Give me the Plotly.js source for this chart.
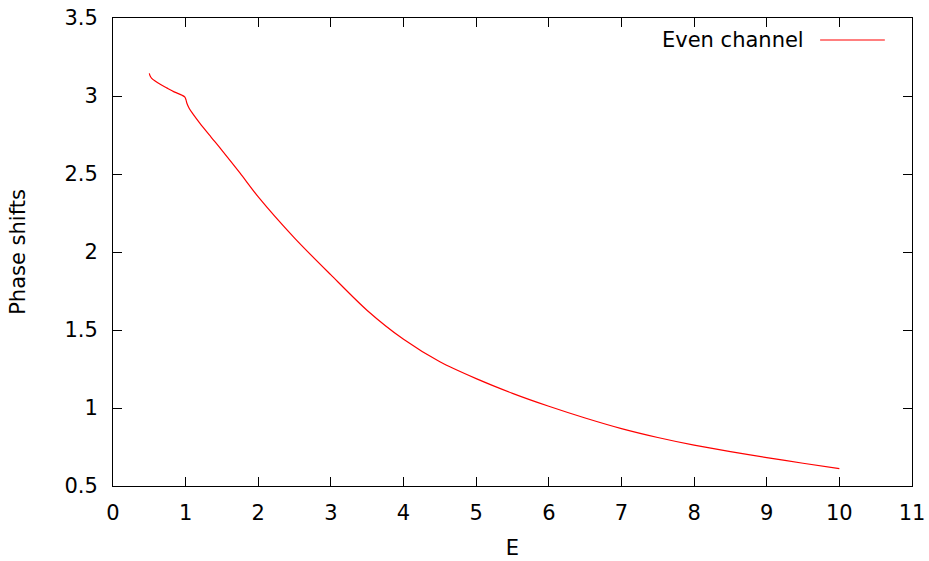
<!DOCTYPE html>
<html>
<head>
<meta charset="utf-8">
<script src="https://cdn.plot.ly/plotly-3.0.1.min.js"></script>
<style>html,body{margin:0;padding:0;background:#fff;}#chart{width:929px;height:561px;}</style>
</head>
<body>
<div id="chart"></div>
<script>
const energy = [0.5, 0.51, 0.53, 0.58, 0.65, 0.74, 0.85, 0.95, 0.99, 1.005, 1.02, 1.05, 1.1, 1.2, 1.35, 1.5, 1.75, 2.0, 2.5, 3.0, 3.5, 4.0, 4.5, 5.0, 5.5, 6.0, 6.5, 7.0, 7.5, 8.0, 8.5, 9.0, 9.5, 10];
const phase = [3.145, 3.13, 3.115, 3.096, 3.075, 3.052, 3.025, 3.005, 2.993, 2.975, 2.95, 2.92, 2.885, 2.823, 2.737, 2.652, 2.505, 2.353, 2.089, 1.853, 1.625, 1.44, 1.296, 1.188, 1.094, 1.011, 0.936, 0.868, 0.811, 0.762, 0.720, 0.682, 0.646, 0.611];
const seriesName = "Even channel";
const xTicks = [0,1,2,3,4,5,6,7,8,9,10,11];
const yTicks = [0.5,1,1.5,2,2.5,3,3.5];

const font = {family: "DejaVu Sans", size: 21, color: "#000"};
const axisCommon = {
  showline: true, mirror: "allticks", linecolor: "#000", linewidth: 1,
  ticks: "inside", ticklen: 9, tickcolor: "#000", tickwidth: 1,
  showgrid: false, zeroline: false, tickfont: font, fixedrange: true
};

Plotly.newPlot("chart", [{
  x: energy, y: phase, type: "scatter", mode: "lines",
  name: seriesName, line: {color: "#ff0000", width: 1.2, shape: "spline", smoothing: 0.8},
  showlegend: false
}], {
  width: 929, height: 561,
  margin: {l: 113, r: 17, t: 18, b: 75},
  paper_bgcolor: "#fff", plot_bgcolor: "#fff",
  font: font,
  xaxis: Object.assign({}, axisCommon, {
    range: [0, 11], tickvals: xTicks, ticktext: xTicks.map(String),
    ticklabelstandoff: 8,
    title: {text: "E", font: font, standoff: 16}
  }),
  yaxis: Object.assign({}, axisCommon, {
    range: [0.5, 3.5], tickvals: yTicks, ticktext: yTicks.map(String),
    ticklabelstandoff: 10,
    title: {text: "Phase shifts", font: font, standoff: 33}
  }),
  annotations: [{
    xref: "paper", yref: "paper", x: 0.867, y: 0.953,
    xanchor: "right", yanchor: "middle", showarrow: false,
    text: seriesName, font: font
  }],
  shapes: [{
    type: "line", xref: "paper", yref: "paper",
    x0: 0.885, x1: 0.966, y0: 0.953, y1: 0.953,
    line: {color: "#ff0000", width: 1.2}
  }]
}, {staticPlot: true});
</script>
</body>
</html>
